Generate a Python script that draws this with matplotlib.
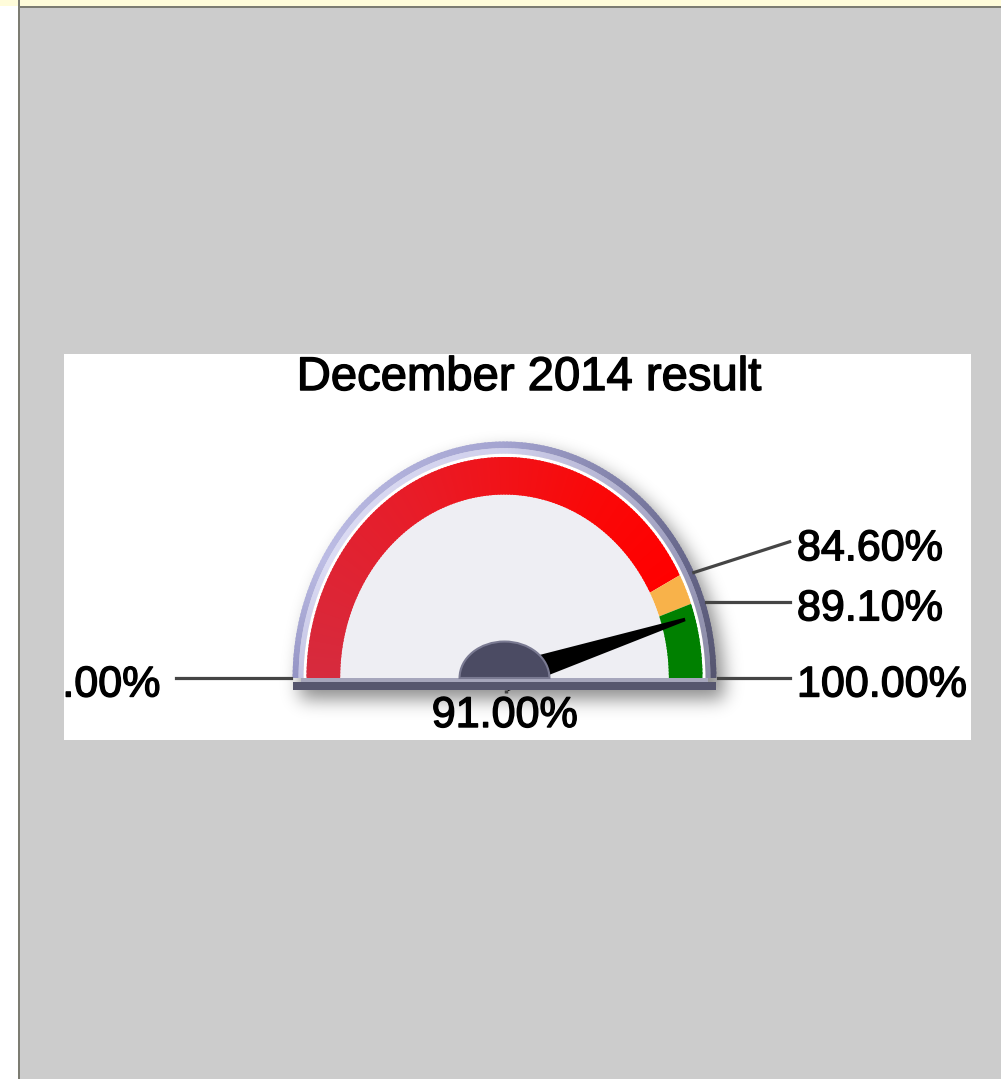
import numpy as np
import matplotlib
matplotlib.use('Agg')
import matplotlib.pyplot as plt
import matplotlib.patheffects as pe
from matplotlib.patches import Wedge, Rectangle, Polygon
from matplotlib.colors import to_rgb
from matplotlib.transforms import Affine2D

plt.rcParams['font.family'] = ['Liberation Sans', 'DejaVu Sans']

# Données de la jauge
title = "December 2014 result"
gauge_min = 0.0
gauge_max = 100.0
band_edges = [0.0, 84.6, 89.1, 100.0]
value = 91.0
label_values = [0.0, 84.6, 89.1, 100.0]

W, H = 1001, 1079
# centre et rayons de la jauge (pixels)
CX, CY = 504.5, 678.0
RX, RY = 198.0, 221.0

# épaississement léger du texte (rendu ClearType agrandi)
THICK = [pe.withStroke(linewidth=1.0, foreground='black')]


def ang(v):
    return 180.0 - (v - gauge_min) / (gauge_max - gauge_min) * 180.0


def blend(stops, a):
    angs = [s[0] for s in stops]
    cols = np.array([to_rgb(s[1]) for s in stops])
    return tuple(np.interp(a, angs, cols[:, k]) for k in range(3))


def gradient_ring(ax, r, width, th1, th2, stops, z, step=1.0):
    n = max(1, int(np.ceil((th2 - th1) / step)))
    edges = np.linspace(th1, th2, n + 1)
    for a0, a1 in zip(edges[:-1], edges[1:]):
        c = blend(stops, 0.5 * (a0 + a1))
        # léger recouvrement pour masquer les joints
        ax.add_patch(Wedge((0, 0), r, a0, min(a1 + 0.6, th2), width=width,
                           fc=c, lw=0, zorder=z))


def blur1d(a, sigma, axis):
    k = np.arange(-3 * sigma, 3 * sigma + 1)
    g = np.exp(-0.5 * (k / sigma) ** 2)
    g /= g.sum()
    return np.apply_along_axis(lambda m: np.convolve(m, g, mode='same'), axis, a)


fig = plt.figure(figsize=(W / 100, H / 100), dpi=100)
fig.patch.set_facecolor('#cccccc')

# cadre de la page
fig.add_artist(Rectangle((0, 0), 18 / W, 1, transform=fig.transFigure,
                         color='white', lw=0, zorder=0))
fig.add_artist(Rectangle((0, 1 - 6 / H), 1, 6 / H, transform=fig.transFigure,
                         color='#fffcda', lw=0, zorder=0))
fig.add_artist(Rectangle((18 / W, 0), 2 / W, 1, transform=fig.transFigure,
                         color='#7c7c72', lw=0, zorder=1))
fig.add_artist(Rectangle((20 / W, 1 - 8 / H), 1, 2 / H, transform=fig.transFigure,
                         color='#7c7c72', lw=0, zorder=1))

# panneau blanc
ax = fig.add_axes([64 / W, 1 - 740 / H, (971 - 64) / W, (740 - 354) / H])
ax.set_facecolor('white')
ax.set_xticks([])
ax.set_yticks([])
for s in ax.spines.values():
    s.set_visible(False)

# ombre portée floue
x0, x1, y0, y1 = -1.2, 1.4, -0.3, 1.2
xs = np.arange(x0 * RX, x1 * RX)
ys = np.arange(y0 * RY, y1 * RY)
X, Y = np.meshgrid(xs, ys)
ox, oy = 7.0, 10.0
Xs, Ys = X - ox, Y + oy
mask = ((Xs / (1.07 * RX)) ** 2 + (Ys / (1.07 * RY)) ** 2 <= 1) & (Ys >= 0)
mask |= (np.abs(Xs) <= 1.07 * RX) & (Ys < 0) & (Ys >= -0.054 * RY)
sh = blur1d(blur1d(mask.astype(float), 9, 0), 9, 1)
rgba = np.zeros(sh.shape + (4,))
rgba[..., 3] = 0.45 * sh
ax.imshow(rgba, extent=(x0, x1, y0, y1), origin='lower', aspect='auto',
          interpolation='bilinear', zorder=1)
ax.set_xlim((64 - CX) / RX, (971 - CX) / RX)
ax.set_ylim((CY - 740) / RY, (CY - 354) / RY)

# lunette
bezel_out = [(0, '#55556f'), (30, '#66668a'), (90, '#a4a4d0'),
             (150, '#bcbce4'), (180, '#9494c4')]
bezel_in = [(0, '#8a8aa4'), (30, '#9c9cbc'), (90, '#d0d0ec'),
            (150, '#dcdcf4'), (180, '#c4c4e4')]
gradient_ring(ax, 1.07, 0.03, 0, 180, bezel_out, 2)
gradient_ring(ax, 1.04, 0.025, 0, 180, bezel_in, 2)
ax.add_patch(Wedge((0, 0), 1.015, 0, 180, color='white', lw=0, zorder=3))
ax.add_patch(Wedge((0, 0), 0.83, 0, 180, color='#eeeef3', lw=0, zorder=3))

# bandes de couleur
band_stops = [
    [(28, '#ff0000'), (60, '#fa0808'), (120, '#e81c28'), (180, '#d62b3e')],
    [(0, '#f8b24a'), (180, '#f8b24a')],
    [(0, '#008000'), (180, '#008000')],
]
for lo, hi, stops in zip(band_edges[:-1], band_edges[1:], band_stops):
    gradient_ring(ax, 1.0, 0.17, ang(hi), ang(lo), stops, 4)

# socle
ax.add_patch(Rectangle((-1.03, -0.018), 2.06, 0.018, color='#a6a6bc',
                       lw=0, zorder=5))
ax.add_patch(Rectangle((-1.07, -0.054), 2.14, 0.037, color='#56566e',
                       lw=0, zorder=5))
ax.plot([0.008, 0.008], [-0.054, -0.07], color='#404040', lw=2.5,
        solid_capstyle='butt', zorder=5)

# aiguille (sous le socle et le moyeu)
a = np.radians(ang(value))
d = np.array([np.cos(a), np.sin(a)])
p = np.array([-np.sin(a), np.cos(a)])
ax.add_patch(Polygon([0.95 * d + 0.008 * p, 0.95 * d - 0.008 * p,
                      -0.062 * p, 0.062 * p], closed=True,
                     color='black', lw=0, zorder=4.5))

# moyeu
hub_tr = Affine2D().scale(0.227, 0.165) + ax.transData
ax.add_patch(Wedge((0, 0), 1.0, 0, 180, fc='#4b4b63', ec='#7a7a92', lw=1.5,
                   transform=hub_tr, zorder=7))

# étiquettes des seuils
r0 = 1.08
gap = 0.272
right = sorted([v for v in label_values if ang(v) < 90], key=lambda v: ang(v))
prev = None
for v in right:
    t = np.radians(ang(v))
    y_nat = 0.95 * r0 * np.sin(t)
    y_lab = y_nat if prev is None else max(y_nat, prev + gap)
    prev = y_lab
    ax.plot([r0 * np.cos(t), 1.44], [y_nat, y_lab], color='#454545',
            lw=2.3, zorder=3)
    ax.text(1.477, y_lab - 0.034, f"{v:.2f}%", fontsize=31, ha='left',
            va='center', color='black', zorder=8, path_effects=THICK)

for v in [v for v in label_values if ang(v) >= 90]:
    t = np.radians(ang(v))
    y_nat = 0.95 * r0 * np.sin(t)
    ax.plot([r0 * np.cos(t), -1.66], [y_nat, y_nat], color='#454545', lw=2.3,
            zorder=3)
    ax.text(-1.74, y_nat - 0.034, f"{v:.2f}%", fontsize=31, ha='right',
            va='center', color='black', clip_on=True, zorder=8,
            path_effects=THICK)

# valeur
ax.text(0.0, -0.172, f"{value:.2f}%", fontsize=31, ha='center', va='center',
        color='black', zorder=8, path_effects=THICK)

# titre
ax.text(0.124, 1.303, title, fontsize=34, ha='center', va='baseline',
        color='black', zorder=8, path_effects=THICK)

fig.savefig('out.png', dpi=100, facecolor=fig.get_facecolor())
